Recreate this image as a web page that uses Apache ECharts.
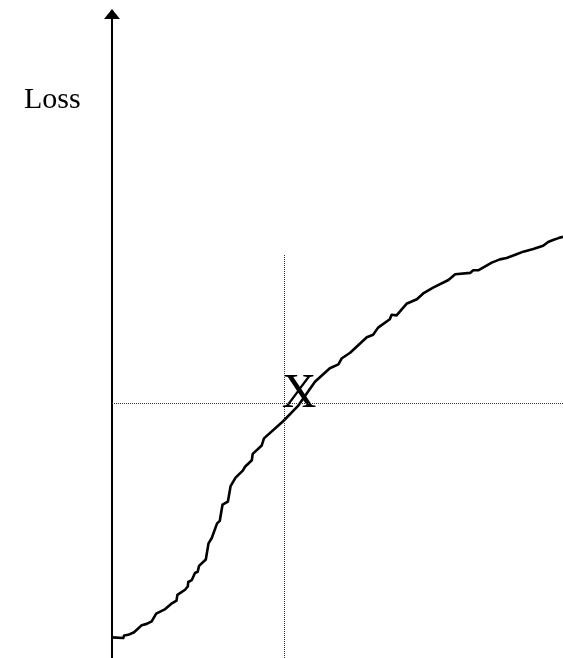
<!DOCTYPE html>
<html>
<head>
<meta charset="utf-8">
<script src="https://cdn.jsdelivr.net/npm/echarts@6/dist/echarts.min.js"></script>
<style>
  html, body { margin: 0; padding: 0; background: #fff; }
  #chart { width: 563px; height: 658px; }
</style>
</head>
<body>
<div id="chart"></div>
<script>
// Loss curve: horizontal position (0-100) and loss level (0-100)
const curveX = [0, 2.5, 2.7, 3.6, 3.8, 4.9, 6.6, 7.7, 8.8, 9.8, 11.8, 13.1, 14.3, 14.5, 16.2, 16.8,
  16.9, 17.7, 18.4, 19.0, 19.3, 20.8, 21.4, 22.1, 23.3, 23.9, 24.5, 25.7, 26.3, 27.4, 29.0, 29.5,
  31.0, 31.2, 33.2, 33.7, 38.0, 41.2, 45.0, 48.3, 50.2, 50.9, 52.8, 56.5, 57.9, 59.0, 61.6, 62.0,
  63.1, 65.3, 67.6, 69.0, 71.2, 74.6, 76.1, 79.4, 80.1, 81.2, 84.2, 86.0, 87.5, 89.7, 91.2, 93.4,
  95.6, 96.7, 97.8, 99.0, 100];
const curveY = [3.2, 3.1, 3.5, 3.6, 3.9, 4.0, 5.1, 5.3, 5.7, 6.9, 7.6, 8.4, 8.9, 9.8, 10.6, 11.1,
  11.8, 12.1, 13.2, 13.4, 14.3, 15.3, 17.8, 18.6, 20.9, 21.3, 23.8, 24.3, 26.7, 28.0, 29.1, 29.7,
  30.7, 31.7, 33.0, 34.1, 36.8, 39.1, 42.9, 45.0, 45.6, 46.5, 47.4, 49.8, 50.2, 51.3, 52.6, 53.3,
  53.2, 55.0, 55.7, 56.6, 57.5, 58.7, 59.6, 59.8, 60.2, 60.2, 61.4, 61.9, 62.1, 62.7, 63.1, 63.5,
  64.0, 64.6, 64.9, 65.2, 65.4];

// Reference point X and its guide lines
const pointX = 38.1;
const pointY = 39.6;
const guideTop = 62.7;
const pointLabel = 'X';
const pointLabelPos = [41.5, 41.0];
const axisName = 'Loss';

const chart = echarts.init(document.getElementById('chart'), null, { renderer: 'canvas' });

const serif = '"Liberation Serif", "Times New Roman", serif';
const guideStyle = { color: '#333', width: 1, type: [1, 1] };

chart.setOption({
  animation: false,
  backgroundColor: '#fff',
  grid: { left: 112, right: 0, top: 14, bottom: 0, containLabel: false },
  xAxis: {
    type: 'value', min: 0, max: 100,
    show: false
  },
  yAxis: {
    type: 'value', min: 0, max: 100,
    axisLine: {
      show: true,
      symbol: ['none', 'triangle'],
      symbolSize: [16, 10],
      lineStyle: { color: '#000', width: 2 }
    },
    axisTick: { show: false },
    axisLabel: { show: false },
    splitLine: { show: false }
  },
  graphic: [{
    type: 'text',
    left: 24,
    top: 85,
    style: { text: axisName, font: '30px ' + serif, fill: '#000' }
  }],
  series: [
    {
      type: 'line',
      data: curveX.map((x, i) => [x, curveY[i]]),
      showSymbol: false,
      silent: true,
      lineStyle: { color: '#000', width: 2.6, join: 'round' },
      markLine: {
        silent: true,
        symbol: 'none',
        label: { show: false },
        lineStyle: guideStyle,
        data: [
          [{ coord: [pointX, 0] }, { coord: [pointX, guideTop] }],
          [{ coord: [0, pointY] }, { coord: [100, pointY] }]
        ]
      }
    },
    {
      type: 'scatter',
      symbolSize: 0,
      silent: true,
      itemStyle: { opacity: 1 },
      data: [pointLabelPos],
      label: {
        show: true,
        position: 'inside',
        formatter: pointLabel,
        fontFamily: serif,
        fontSize: 48,
        color: '#000'
      }
    }
  ]
});
</script>
</body>
</html>
